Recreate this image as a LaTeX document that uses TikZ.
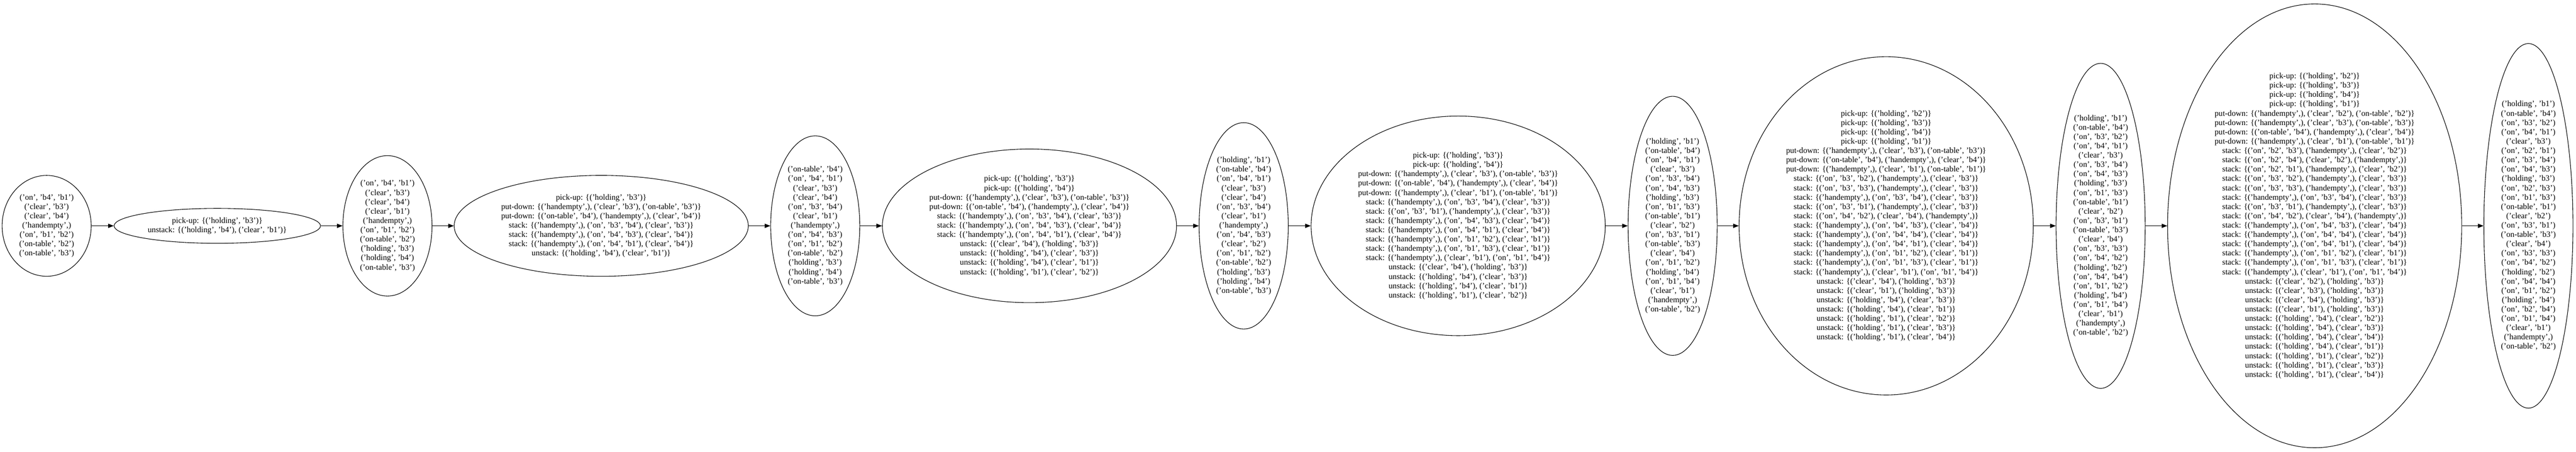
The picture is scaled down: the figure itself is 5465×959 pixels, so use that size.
\documentclass[tikz,border=0pt]{standalone}
\usepackage{fontspec}
\setmainfont{Liberation Serif}
\usetikzlibrary{shapes.geometric}
\usetikzlibrary{arrows.meta}

\begin{document}
\begin{tikzpicture}[x=1pt,y=1pt]
\useasboundingbox (0,-479.5) rectangle (5465,479.5);
\tikzstyle{etat}=[draw,ellipse,line width=1.2pt,align=center,inner xsep=2pt,inner ysep=8.5pt,minimum width=189pt,font=\fontsize{17.2}{19.8}\selectfont]
\tikzstyle{action}=[etat,minimum width=624pt]
\tikzstyle{estun}=[line width=1.2pt,-{Triangle[length=12pt,width=9pt]}]
\par
	\node[etat] (A) at (99,0) {('on', 'b4', 'b1')\\('clear', 'b3')\\('clear', 'b4')\\('handempty',)\\('on', 'b1', 'b2')\\('on-table', 'b2')\\('on-table', 'b3')};
	\node[action,minimum width=438pt] (B) at (461,0) {pick-up: \{('holding', 'b3')\}\\unstack: \{('holding', 'b4'), ('clear', 'b1')\}};
	\node[etat] (C) at (822,0) {('on', 'b4', 'b1')\\('clear', 'b3')\\('clear', 'b4')\\('clear', 'b1')\\('handempty',)\\('on', 'b1', 'b2')\\('on-table', 'b2')\\('holding', 'b3')\\('holding', 'b4')\\('on-table', 'b3')};
	\node[action] (D) at (1275.5,0) {pick-up: \{('holding', 'b3')\}\\put-down: \{('handempty',), ('clear', 'b3'), ('on-table', 'b3')\}\\put-down: \{('on-table', 'b4'), ('handempty',), ('clear', 'b4')\}\\stack: \{('handempty',), ('on', 'b3', 'b4'), ('clear', 'b3')\}\\stack: \{('handempty',), ('on', 'b4', 'b3'), ('clear', 'b4')\}\\stack: \{('handempty',), ('on', 'b4', 'b1'), ('clear', 'b4')\}\\unstack: \{('holding', 'b4'), ('clear', 'b1')\}};
\par
	\node[etat] (E) at (1729.5,0) {('on-table', 'b4')\\('on', 'b4', 'b1')\\('clear', 'b3')\\('clear', 'b4')\\('on', 'b3', 'b4')\\('clear', 'b1')\\('handempty',)\\('on', 'b4', 'b3')\\('on', 'b1', 'b2')\\('on-table', 'b2')\\('holding', 'b3')\\('holding', 'b4')\\('on-table', 'b3')};
	\node[action] (F) at (2184,0) {pick-up: \{('holding', 'b3')\}\\pick-up: \{('holding', 'b4')\}\\put-down: \{('handempty',), ('clear', 'b3'), ('on-table', 'b3')\}\\put-down: \{('on-table', 'b4'), ('handempty',), ('clear', 'b4')\}\\stack: \{('handempty',), ('on', 'b3', 'b4'), ('clear', 'b3')\}\\stack: \{('handempty',), ('on', 'b4', 'b3'), ('clear', 'b4')\}\\stack: \{('handempty',), ('on', 'b4', 'b1'), ('clear', 'b4')\}\\unstack: \{('clear', 'b4'), ('holding', 'b3')\}\\unstack: \{('holding', 'b4'), ('clear', 'b3')\}\\unstack: \{('holding', 'b4'), ('clear', 'b1')\}\\unstack: \{('holding', 'b1'), ('clear', 'b2')\}};
	\node[etat] (G) at (2638.5,0) {('holding', 'b1')\\('on-table', 'b4')\\('on', 'b4', 'b1')\\('clear', 'b3')\\('clear', 'b4')\\('on', 'b3', 'b4')\\('clear', 'b1')\\('handempty',)\\('on', 'b4', 'b3')\\('clear', 'b2')\\('on', 'b1', 'b2')\\('on-table', 'b2')\\('holding', 'b3')\\('holding', 'b4')\\('on-table', 'b3')};
	\node[action] (H) at (3093.5,0) {pick-up: \{('holding', 'b3')\}\\pick-up: \{('holding', 'b4')\}\\put-down: \{('handempty',), ('clear', 'b3'), ('on-table', 'b3')\}\\put-down: \{('on-table', 'b4'), ('handempty',), ('clear', 'b4')\}\\put-down: \{('handempty',), ('clear', 'b1'), ('on-table', 'b1')\}\\stack: \{('handempty',), ('on', 'b3', 'b4'), ('clear', 'b3')\}\\stack: \{('on', 'b3', 'b1'), ('handempty',), ('clear', 'b3')\}\\stack: \{('handempty',), ('on', 'b4', 'b3'), ('clear', 'b4')\}\\stack: \{('handempty',), ('on', 'b4', 'b1'), ('clear', 'b4')\}\\stack: \{('handempty',), ('on', 'b1', 'b2'), ('clear', 'b1')\}\\stack: \{('handempty',), ('on', 'b1', 'b3'), ('clear', 'b1')\}\\stack: \{('handempty',), ('clear', 'b1'), ('on', 'b1', 'b4')\}\\unstack: \{('clear', 'b4'), ('holding', 'b3')\}\\unstack: \{('holding', 'b4'), ('clear', 'b3')\}\\unstack: \{('holding', 'b4'), ('clear', 'b1')\}\\unstack: \{('holding', 'b1'), ('clear', 'b2')\}};
\par
	\node[etat] (I) at (3548.5,0) {('holding', 'b1')\\('on-table', 'b4')\\('on', 'b4', 'b1')\\('clear', 'b3')\\('on', 'b3', 'b4')\\('on', 'b4', 'b3')\\('holding', 'b3')\\('on', 'b1', 'b3')\\('on-table', 'b1')\\('clear', 'b2')\\('on', 'b3', 'b1')\\('on-table', 'b3')\\('clear', 'b4')\\('on', 'b1', 'b2')\\('holding', 'b4')\\('on', 'b1', 'b4')\\('clear', 'b1')\\('handempty',)\\('on-table', 'b2')};
	\node[action] (J) at (4001.5,0) {pick-up: \{('holding', 'b2')\}\\pick-up: \{('holding', 'b3')\}\\pick-up: \{('holding', 'b4')\}\\pick-up: \{('holding', 'b1')\}\\put-down: \{('handempty',), ('clear', 'b3'), ('on-table', 'b3')\}\\put-down: \{('on-table', 'b4'), ('handempty',), ('clear', 'b4')\}\\put-down: \{('handempty',), ('clear', 'b1'), ('on-table', 'b1')\}\\stack: \{('on', 'b3', 'b2'), ('handempty',), ('clear', 'b3')\}\\stack: \{('on', 'b3', 'b3'), ('handempty',), ('clear', 'b3')\}\\stack: \{('handempty',), ('on', 'b3', 'b4'), ('clear', 'b3')\}\\stack: \{('on', 'b3', 'b1'), ('handempty',), ('clear', 'b3')\}\\stack: \{('on', 'b4', 'b2'), ('clear', 'b4'), ('handempty',)\}\\stack: \{('handempty',), ('on', 'b4', 'b3'), ('clear', 'b4')\}\\stack: \{('handempty',), ('on', 'b4', 'b4'), ('clear', 'b4')\}\\stack: \{('handempty',), ('on', 'b4', 'b1'), ('clear', 'b4')\}\\stack: \{('handempty',), ('on', 'b1', 'b2'), ('clear', 'b1')\}\\stack: \{('handempty',), ('on', 'b1', 'b3'), ('clear', 'b1')\}\\stack: \{('handempty',), ('clear', 'b1'), ('on', 'b1', 'b4')\}\\unstack: \{('clear', 'b4'), ('holding', 'b3')\}\\unstack: \{('clear', 'b1'), ('holding', 'b3')\}\\unstack: \{('holding', 'b4'), ('clear', 'b3')\}\\unstack: \{('holding', 'b4'), ('clear', 'b1')\}\\unstack: \{('holding', 'b1'), ('clear', 'b2')\}\\unstack: \{('holding', 'b1'), ('clear', 'b3')\}\\unstack: \{('holding', 'b1'), ('clear', 'b4')\}};
	\node[etat] (K) at (4456.5,0) {('holding', 'b1')\\('on-table', 'b4')\\('on', 'b3', 'b2')\\('on', 'b4', 'b1')\\('clear', 'b3')\\('on', 'b3', 'b4')\\('on', 'b4', 'b3')\\('holding', 'b3')\\('on', 'b1', 'b3')\\('on-table', 'b1')\\('clear', 'b2')\\('on', 'b3', 'b1')\\('on-table', 'b3')\\('clear', 'b4')\\('on', 'b3', 'b3')\\('on', 'b4', 'b2')\\('holding', 'b2')\\('on', 'b4', 'b4')\\('on', 'b1', 'b2')\\('holding', 'b4')\\('on', 'b1', 'b4')\\('clear', 'b1')\\('handempty',)\\('on-table', 'b2')};
	\node[action] (L) at (4910.5,0) {pick-up: \{('holding', 'b2')\}\\pick-up: \{('holding', 'b3')\}\\pick-up: \{('holding', 'b4')\}\\pick-up: \{('holding', 'b1')\}\\put-down: \{('handempty',), ('clear', 'b2'), ('on-table', 'b2')\}\\put-down: \{('handempty',), ('clear', 'b3'), ('on-table', 'b3')\}\\put-down: \{('on-table', 'b4'), ('handempty',), ('clear', 'b4')\}\\put-down: \{('handempty',), ('clear', 'b1'), ('on-table', 'b1')\}\\stack: \{('on', 'b2', 'b3'), ('handempty',), ('clear', 'b2')\}\\stack: \{('on', 'b2', 'b4'), ('clear', 'b2'), ('handempty',)\}\\stack: \{('on', 'b2', 'b1'), ('handempty',), ('clear', 'b2')\}\\stack: \{('on', 'b3', 'b2'), ('handempty',), ('clear', 'b3')\}\\stack: \{('on', 'b3', 'b3'), ('handempty',), ('clear', 'b3')\}\\stack: \{('handempty',), ('on', 'b3', 'b4'), ('clear', 'b3')\}\\stack: \{('on', 'b3', 'b1'), ('handempty',), ('clear', 'b3')\}\\stack: \{('on', 'b4', 'b2'), ('clear', 'b4'), ('handempty',)\}\\stack: \{('handempty',), ('on', 'b4', 'b3'), ('clear', 'b4')\}\\stack: \{('handempty',), ('on', 'b4', 'b4'), ('clear', 'b4')\}\\stack: \{('handempty',), ('on', 'b4', 'b1'), ('clear', 'b4')\}\\stack: \{('handempty',), ('on', 'b1', 'b2'), ('clear', 'b1')\}\\stack: \{('handempty',), ('on', 'b1', 'b3'), ('clear', 'b1')\}\\stack: \{('handempty',), ('clear', 'b1'), ('on', 'b1', 'b4')\}\\unstack: \{('clear', 'b2'), ('holding', 'b3')\}\\unstack: \{('clear', 'b3'), ('holding', 'b3')\}\\unstack: \{('clear', 'b4'), ('holding', 'b3')\}\\unstack: \{('clear', 'b1'), ('holding', 'b3')\}\\unstack: \{('holding', 'b4'), ('clear', 'b2')\}\\unstack: \{('holding', 'b4'), ('clear', 'b3')\}\\unstack: \{('holding', 'b4'), ('clear', 'b4')\}\\unstack: \{('holding', 'b4'), ('clear', 'b1')\}\\unstack: \{('holding', 'b1'), ('clear', 'b2')\}\\unstack: \{('holding', 'b1'), ('clear', 'b3')\}\\unstack: \{('holding', 'b1'), ('clear', 'b4')\}};
	\node[etat] (M) at (5364,0) {('holding', 'b1')\\('on-table', 'b4')\\('on', 'b3', 'b2')\\('on', 'b4', 'b1')\\('clear', 'b3')\\('on', 'b2', 'b1')\\('on', 'b3', 'b4')\\('on', 'b4', 'b3')\\('holding', 'b3')\\('on', 'b2', 'b3')\\('on', 'b1', 'b3')\\('on-table', 'b1')\\('clear', 'b2')\\('on', 'b3', 'b1')\\('on-table', 'b3')\\('clear', 'b4')\\('on', 'b3', 'b3')\\('on', 'b4', 'b2')\\('holding', 'b2')\\('on', 'b4', 'b4')\\('on', 'b1', 'b2')\\('holding', 'b4')\\('on', 'b2', 'b4')\\('on', 'b1', 'b4')\\('clear', 'b1')\\('handempty',)\\('on-table', 'b2')};
\par
	\draw[estun] (A)--(B);
	\draw[estun] (B)--(C);
	\draw[estun] (C)--(D);
	\draw[estun] (D)--(E);
	\draw[estun] (E)--(F);
	\draw[estun] (F)--(G);
	\draw[estun] (G)--(H);
	\draw[estun] (H)--(I);
	\draw[estun] (I)--(J);
	\draw[estun] (J)--(K);
	\draw[estun] (K)--(L);
	\draw[estun] (L)--(M);
\end{tikzpicture}
\end{document}
